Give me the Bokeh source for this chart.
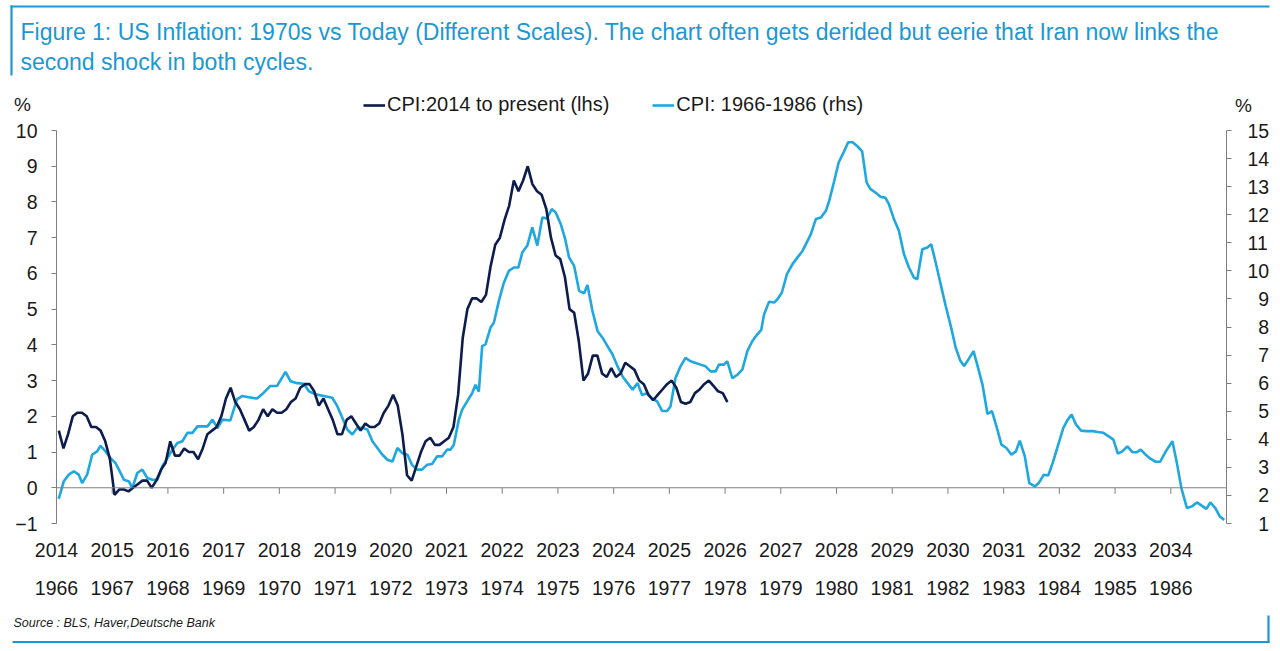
from bokeh.plotting import figure
from bokeh.layouts import column
from bokeh.models import (Range1d, LinearAxis, FixedTicker, Span, Label,
                          Legend, LegendItem)
from bokeh.embed import file_html
from bokeh.resources import INLINE

# --- Data: US CPI y/y %, monthly from Jan 2014 (lhs)
cpi_now_start = 2014
cpi_now = [
    1.6, 1.1, 1.5, 2.0, 2.1, 2.1, 2.0, 1.7, 1.7, 1.6, 1.3, 0.8,      # 2014
    -0.2, -0.05, -0.05, -0.1, 0.0, 0.1, 0.2, 0.2, 0.0, 0.2, 0.5, 0.7,  # 2015
    1.3, 0.9, 0.9, 1.1, 1.0, 1.0, 0.8, 1.1, 1.5, 1.6, 1.7, 2.0,      # 2016
    2.5, 2.8, 2.4, 2.2, 1.9, 1.6, 1.7, 1.9, 2.2, 2.0, 2.2, 2.1,      # 2017
    2.1, 2.2, 2.4, 2.5, 2.8, 2.9, 2.9, 2.7, 2.3, 2.5, 2.2, 1.9,      # 2018
    1.5, 1.5, 1.9, 2.0, 1.8, 1.6, 1.8, 1.7, 1.7, 1.8, 2.1, 2.3,      # 2019
    2.6, 2.3, 1.5, 0.35, 0.2, 0.6, 1.0, 1.3, 1.4, 1.2, 1.2, 1.3,     # 2020
    1.4, 1.7, 2.6, 4.2, 5.0, 5.3, 5.3, 5.2, 5.4, 6.2, 6.8, 7.0,      # 2021
    7.5, 7.9, 8.6, 8.3, 8.6, 9.0, 8.5, 8.3, 8.2, 7.8, 7.0, 6.5,      # 2022
    6.4, 5.9, 5.0, 4.9, 4.1, 3.0, 3.2, 3.7, 3.7, 3.2, 3.1, 3.35,     # 2023
    3.1, 3.2, 3.5, 3.4, 3.3, 3.0, 2.9, 2.6, 2.45, 2.6, 2.75, 2.9,    # 2024
    3.0, 2.8, 2.4, 2.35, 2.4, 2.65, 2.75, 2.9, 3.0, 2.85, 2.7, 2.65, # 2025
    2.4,                                                             # 2026
]

# --- Data: US CPI y/y %, 1966-1986 (rhs)
cpi_then_year = [
    1966.04, 1966.13, 1966.22, 1966.31, 1966.40, 1966.46, 1966.55, 1966.64,
    1966.73, 1966.79, 1966.88, 1966.97, 1967.06, 1967.12, 1967.21, 1967.30,
    1967.36, 1967.45, 1967.54, 1967.63, 1967.72, 1967.81, 1967.90, 1967.99,
    1968.08, 1968.17, 1968.26, 1968.35, 1968.44, 1968.53, 1968.62, 1968.71,
    1968.80, 1968.89, 1968.98, 1969.12, 1969.24, 1969.33, 1969.45, 1969.60,
    1969.72, 1969.84, 1969.96, 1970.11, 1970.20, 1970.32, 1970.44, 1970.53,
    1970.65, 1970.80, 1970.95, 1971.04, 1971.13, 1971.22, 1971.31, 1971.40,
    1971.49, 1971.58, 1971.67, 1971.76, 1971.85, 1971.94, 1972.03, 1972.12,
    1972.21, 1972.30, 1972.38, 1972.47, 1972.56, 1972.65, 1972.74, 1972.83,
    1972.92, 1973.01, 1973.07, 1973.13, 1973.22, 1973.28, 1973.37, 1973.46,
    1973.52, 1973.58, 1973.64, 1973.70, 1973.79, 1973.85, 1973.94, 1974.03,
    1974.12, 1974.21, 1974.29, 1974.36, 1974.45, 1974.54, 1974.63, 1974.72,
    1974.80, 1974.89, 1974.96, 1975.05, 1975.13, 1975.20, 1975.29, 1975.38,
    1975.47, 1975.53, 1975.62, 1975.71, 1975.80, 1975.89, 1975.98, 1976.07,
    1976.16, 1976.25, 1976.34, 1976.43, 1976.51, 1976.60, 1976.69, 1976.78,
    1976.87, 1976.96, 1977.02, 1977.11, 1977.20, 1977.29, 1977.38, 1977.47,
    1977.56, 1977.65, 1977.74, 1977.83, 1977.89, 1977.98, 1978.04, 1978.13,
    1978.22, 1978.31, 1978.40, 1978.49, 1978.58, 1978.65, 1978.70, 1978.79,
    1978.88, 1978.94, 1979.02, 1979.11, 1979.21, 1979.30, 1979.39, 1979.48,
    1979.54, 1979.63, 1979.72, 1979.81, 1979.87, 1979.96, 1980.04, 1980.13,
    1980.21, 1980.29, 1980.38, 1980.46, 1980.54, 1980.61, 1980.70, 1980.79,
    1980.88, 1980.94, 1981.03, 1981.12, 1981.21, 1981.30, 1981.39, 1981.45,
    1981.54, 1981.63, 1981.70, 1981.78, 1981.87, 1981.96, 1982.05, 1982.14,
    1982.22, 1982.29, 1982.38, 1982.46, 1982.54, 1982.62, 1982.71, 1982.79,
    1982.88, 1982.96, 1983.05, 1983.14, 1983.22, 1983.29, 1983.38, 1983.46,
    1983.56, 1983.63, 1983.72, 1983.80, 1983.88, 1983.98, 1984.07, 1984.15,
    1984.22, 1984.30, 1984.39, 1984.48, 1984.60, 1984.69, 1984.79, 1984.88,
    1984.97, 1985.05, 1985.13, 1985.22, 1985.31, 1985.39, 1985.46, 1985.55,
    1985.64, 1985.73, 1985.81, 1985.91, 1986.03, 1986.11, 1986.19, 1986.29,
    1986.38, 1986.47, 1986.56, 1986.64, 1986.71, 1986.80, 1986.88, 1986.96,
]
cpi_then = [
    1.88, 2.50, 2.74, 2.86, 2.74, 2.44, 2.74, 3.45,
    3.57, 3.77, 3.57, 3.33, 3.15, 2.92, 2.56, 2.50,
    2.26, 2.80, 2.92, 2.62, 2.56, 2.56, 3.04, 3.33,
    3.63, 3.87, 3.93, 4.23, 4.23, 4.46, 4.46, 4.46,
    4.70, 4.40, 4.70, 4.67, 5.42, 5.54, 5.50, 5.45,
    5.66, 5.90, 5.90, 6.40, 6.07, 6.00, 5.98, 5.71,
    5.60, 5.54, 5.48, 5.18, 4.77, 4.35, 4.17, 4.41,
    4.41, 4.35, 3.93, 3.69, 3.45, 3.27, 3.21, 3.69,
    3.50, 3.45, 3.09, 2.92, 2.92, 3.09, 3.12, 3.39,
    3.39, 3.63, 3.63, 3.80, 4.69, 5.05, 5.35, 5.64,
    5.94, 5.70, 7.32, 7.38, 7.98, 8.15, 8.93, 9.58,
    10.00, 10.12, 10.12, 10.65, 10.90, 11.55, 10.90, 11.90,
    11.87, 12.20, 12.08, 11.67, 11.13, 10.48, 10.18, 9.29,
    9.20, 9.50, 8.57, 7.86, 7.62, 7.32, 7.02, 6.60,
    6.24, 6.00, 5.77, 6.00, 5.58, 5.64, 5.46, 5.35,
    5.01, 5.01, 5.17, 6.18, 6.60, 6.90, 6.78, 6.72,
    6.66, 6.60, 6.42, 6.42, 6.66, 6.66, 6.78, 6.18,
    6.30, 6.48, 7.14, 7.50, 7.74, 7.90, 8.45, 8.90,
    8.87, 8.99, 9.23, 9.88, 10.24, 10.48, 10.71, 11.07,
    11.31, 11.85, 11.90, 12.14, 12.50, 13.21, 13.87, 14.23,
    14.58, 14.58, 14.43, 14.26, 13.15, 12.91, 12.79, 12.64,
    12.60, 12.38, 11.85, 11.43, 10.60, 10.12, 9.76, 9.70,
    10.77, 10.83, 10.95, 10.30, 9.52, 8.75, 8.04, 7.26,
    6.81, 6.61, 6.88, 7.14, 6.55, 5.95, 4.90, 5.00,
    4.40, 3.81, 3.69, 3.45, 3.57, 3.95, 3.39, 2.44,
    2.32, 2.44, 2.74, 2.71, 3.15, 3.81, 4.40, 4.70,
    4.88, 4.52, 4.31, 4.29, 4.29, 4.26, 4.23, 4.11,
    3.99, 3.49, 3.57, 3.75, 3.54, 3.54, 3.63, 3.45,
    3.30, 3.20, 3.20, 3.57, 3.93, 3.15, 2.26, 1.55,
    1.61, 1.75, 1.63, 1.52, 1.75, 1.55, 1.25, 1.13,
]
LAG = 48  # 1966 is lined up with 2014

years_now = list(range(2014, 2035))
years_then = list(range(1966, 1987))
lhs_ticks = list(range(-1, 11))
rhs_ticks = list(range(1, 16))

TITLE_1 = ("Figure 1: US Inflation: 1970s vs Today (Different Scales). "
           "The chart often gets derided but eerie that Iran now links the")
TITLE_2 = "second shock in both cycles."
LEG_NOW = "CPI:2014 to present (lhs)"
LEG_THEN = "CPI: 1966-1986 (rhs)"
SOURCE = "Source : BLS, Haver,Deutsche Bank"

DARK = "#0c1c4c"
LIGHT = "#1fa7e0"
DB_BLUE = "#1b98d4"
GREY = "#7f7f7f"
INK = "#1a1a1a"
FONT = "Liberation Sans"
LW = 2.6
NAN = float("nan")

x_now = [cpi_now_start + (i + 0.5) / 12 for i in range(len(cpi_now))]
x_then = [t + LAG for t in cpi_then_year]

W = 1280
TOP_H, MAIN_H = 118, 492
BOT_H = 651 - TOP_H - MAIN_H


def blank(height):
    # a figure whose frame is the whole canvas, for the header / footer
    f = figure(width=W, height=height, x_range=Range1d(0, W), y_range=Range1d(0, height),
               output_backend="svg", toolbar_location=None,
               x_axis_location=None, y_axis_location=None,
               min_border=0, outline_line_color=None, frame_align=False)
    f.grid.visible = False
    return f


def text(f, h, s, x, y, size, color=INK, align="left", style="normal"):
    f.add_layout(Label(x=x, y=h - y, text=s, text_font=FONT, text_font_size=size,
                       text_color=color, text_align=align, text_baseline="middle",
                       text_font_style=style))


def rule(f, h, x0, y0, x1, y1):
    f.segment(x0=[x0], y0=[h - y0], x1=[x1], y1=[h - y1],
              line_color=DB_BLUE, line_width=2.2)


# --- Header: title box, % units and legend
top = blank(TOP_H)
rule(top, TOP_H, 10, 6, 1269, 6)
rule(top, TOP_H, 11, 5, 11, 75)
text(top, TOP_H, TITLE_1, 20, 31, "23px", color=DB_BLUE)
text(top, TOP_H, TITLE_2, 20, 61, "23px", color=DB_BLUE)
text(top, TOP_H, "%", 22, 104, "19px", align="center")
text(top, TOP_H, "%", 1243, 105, "19px", align="center")

# legend keys (the series themselves live in the chart below)
leg_now = top.line(x=[NAN], y=[NAN], line_color=DARK, line_width=LW)
leg_then = top.line(x=[NAN], y=[NAN], line_color=LIGHT, line_width=LW)
legend = Legend(items=[LegendItem(label=LEG_NOW, renderers=[leg_now]),
                       LegendItem(label=LEG_THEN, renderers=[leg_then])],
                orientation="horizontal", location=(363, 2),
                glyph_width=22, glyph_height=20, label_height=20, label_standoff=2,
                spacing=43, padding=0, margin=0, border_line_color=None,
                background_fill_alpha=0, label_text_font=FONT,
                label_text_font_size="20px", label_text_color=INK)
top.add_layout(legend)

# --- Main chart
ML, MR = 56, 54
MT = 130 - TOP_H
MB = TOP_H + MAIN_H - 523

p = figure(width=W, height=MAIN_H, x_range=Range1d(2014, 2035), y_range=Range1d(-1, 10),
           output_backend="svg", toolbar_location=None,
           min_border_left=ML, min_border_right=MR,
           min_border_top=MT, min_border_bottom=MB,
           outline_line_color=None, background_fill_color="white", frame_align=False)
p.grid.visible = False
p.extra_y_ranges = {"rhs": Range1d(1, 15)}


def style_axis(ax, standoff, tick_out):
    ax.axis_line_color = GREY if tick_out else None
    ax.major_tick_line_color = GREY if tick_out else None
    ax.minor_tick_line_color = None
    ax.major_tick_in = 0
    ax.major_tick_out = tick_out
    ax.major_label_standoff = standoff
    ax.major_label_text_font = FONT
    ax.major_label_text_font_size = "19.5px"
    ax.major_label_text_color = INK


ly = p.yaxis[0]
ly.ticker = FixedTicker(ticks=lhs_ticks)
style_axis(ly, 14, 5)

# right-hand labels are right-aligned: pad single digits with a figure space
ry = LinearAxis(y_range_name="rhs", ticker=FixedTicker(ticks=rhs_ticks),
                major_label_overrides={t: ("\u2007%d" % t if t < 10 else str(t))
                                       for t in rhs_ticks})
style_axis(ry, 16, 5)
p.add_layout(ry, "right")

bx = p.xaxis[0]
bx.ticker = FixedTicker(ticks=years_now)
style_axis(bx, 19, 0)

bx2 = LinearAxis(ticker=FixedTicker(ticks=years_now),
                 major_label_overrides={y: str(o) for y, o in zip(years_now, years_then)})
style_axis(bx2, 21, 0)
p.add_layout(bx2, "below")

# zero line acts as the x axis, with its year ticks hanging below
p.add_layout(Span(location=0, dimension="width", line_color=GREY, line_width=1))
p.segment(x0=years_now[1:], y0=0, x1=years_now[1:], y1=-0.17,
          line_color=GREY, line_width=1)

p.line(x_then, cpi_then, line_color=LIGHT, line_width=LW, y_range_name="rhs")
p.line(x_now, cpi_now, line_color=DARK, line_width=LW)

# --- Footer: source and closing rule
bot = blank(BOT_H)
y_off = TOP_H + MAIN_H
text(bot, BOT_H, SOURCE, 13, 622.5 - y_off, "12.5px", style="italic")
rule(bot, BOT_H, 12, 641.5 - y_off, 1269, 641.5 - y_off)
rule(bot, BOT_H, 1268, 615 - y_off, 1268, 642.5 - y_off)

open("out.html", "w").write(file_html(column(top, p, bot, spacing=0), INLINE))
